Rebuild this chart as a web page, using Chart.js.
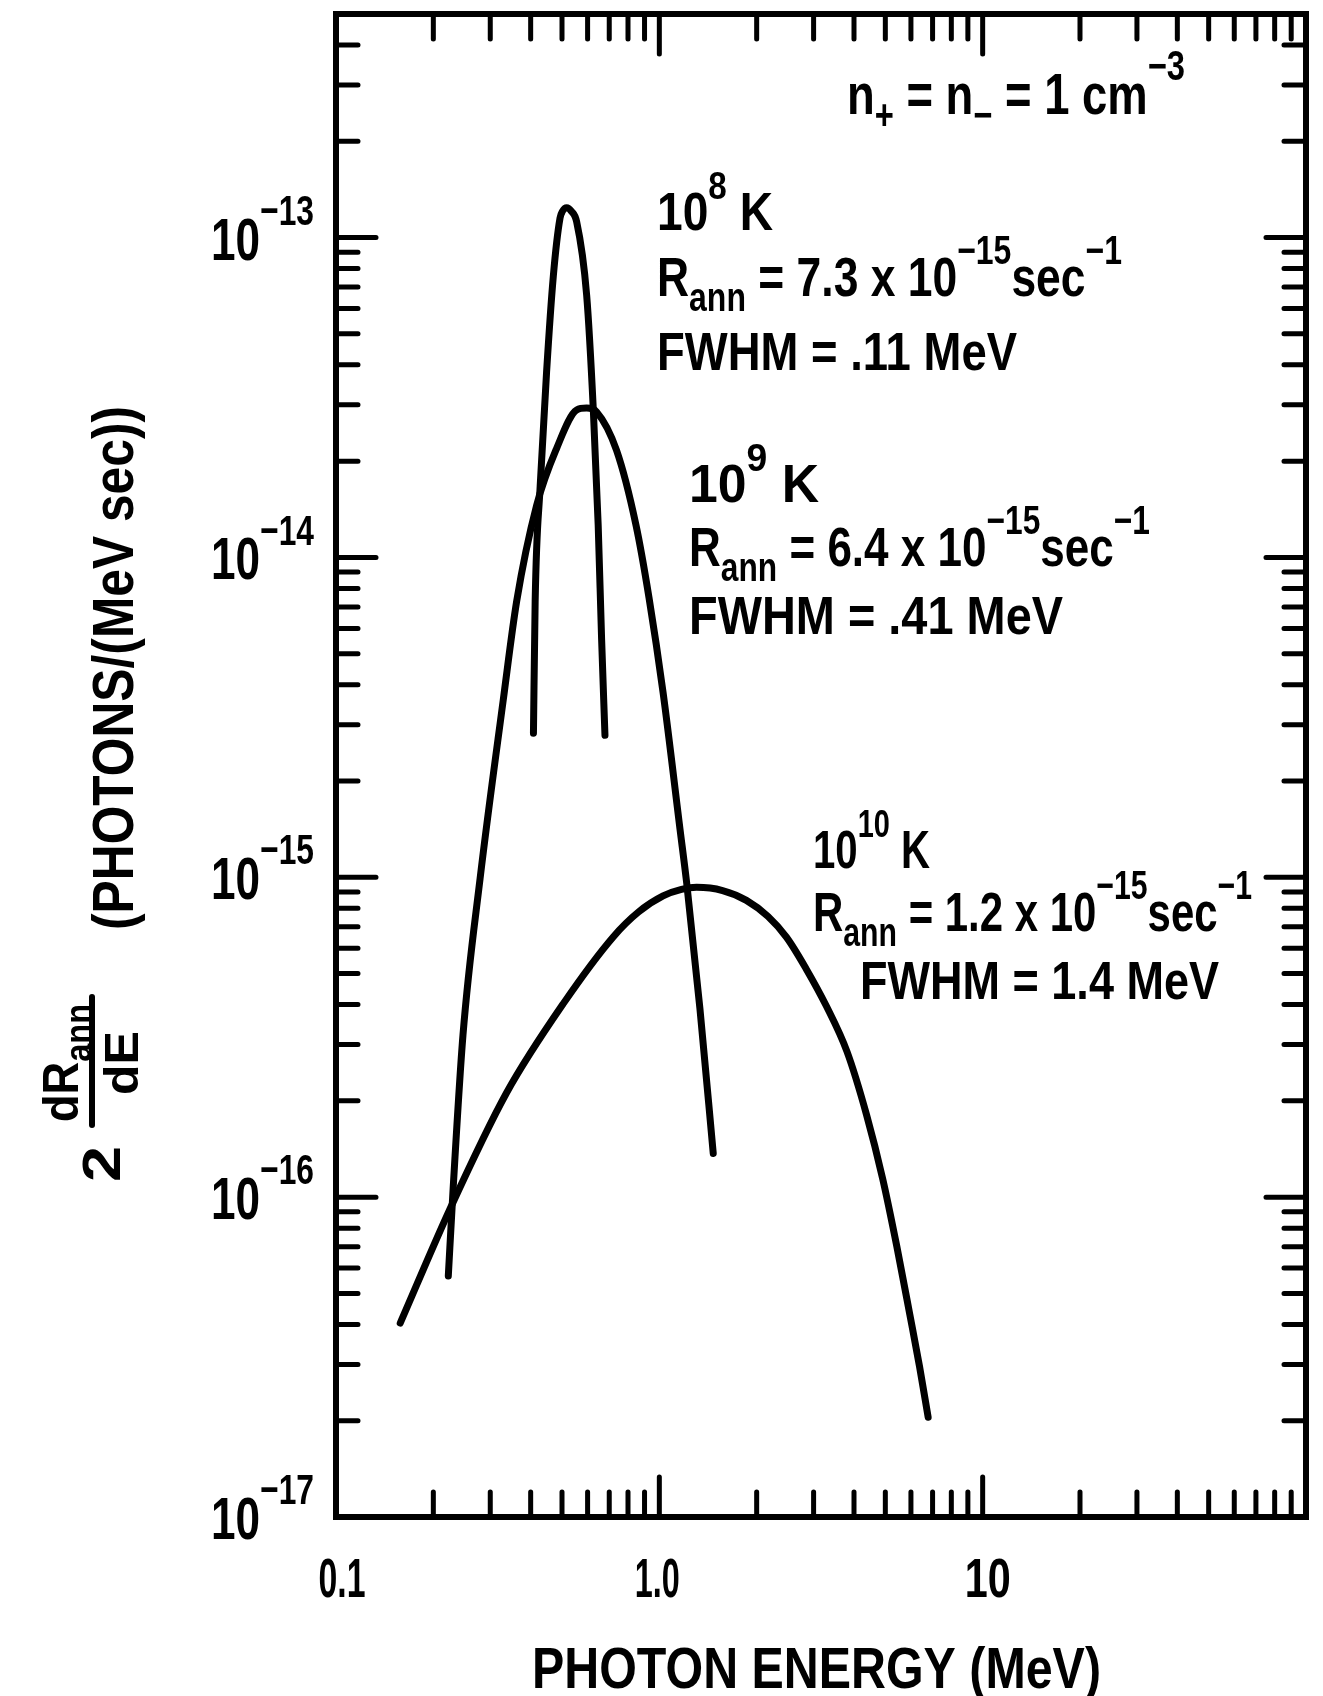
<!DOCTYPE html>
<html>
<head>
<meta charset="utf-8">
<script src="https://cdn.jsdelivr.net/npm/chart.js@4.4.1/dist/chart.umd.min.js"></script>
<style>
html, body { margin:0; padding:0; background:#fff; }
canvas { display:block; }
</style>
</head>
<body>
<canvas id="mycanvas" width="1323" height="1696"></canvas>
<script>
// photon energy (MeV) and 2 dR/dE, one pair per temperature
var e8  = [0.408, 0.413, 0.428, 0.448, 0.470, 0.493, 0.502, 0.517, 0.534, 0.555, 0.596, 0.625, 0.647, 0.663, 0.679];
var r8  = [2.82e-15, 7.29e-15, 1.67e-14, 3.80e-14, 7.57e-14, 1.15e-13, 1.21e-13, 1.24e-13, 1.21e-13, 1.12e-13, 6.60e-14, 2.89e-14, 1.26e-14, 5.53e-15, 2.78e-15];
var e9  = [0.2225, 0.230, 0.247, 0.279, 0.329, 0.362, 0.417, 0.481, 0.555, 0.596, 0.640, 0.7375, 0.847, 0.929, 1.027, 1.158, 1.215, 1.335, 1.468];
var r9  = [5.67e-17, 1.04e-16, 3.21e-16, 9.90e-16, 3.58e-15, 7.29e-15, 1.45e-14, 2.19e-14, 2.89e-14, 2.93e-14, 2.85e-14, 2.16e-14, 1.26e-14, 7.49e-15, 3.78e-15, 1.42e-15, 9.60e-16, 3.89e-16, 1.37e-16];
var e10 = [0.158, 0.225, 0.337, 0.504, 0.720, 0.861, 1.027, 1.171, 1.304, 1.569, 1.859, 2.169, 2.472, 2.840, 3.288, 3.806, 4.373, 4.908, 5.425, 5.951, 6.377, 6.783];
var r10 = [4.04e-17, 9.17e-17, 2.12e-16, 4.02e-16, 6.51e-16, 7.78e-16, 8.74e-16, 9.16e-16, 9.30e-16, 9.09e-16, 8.47e-16, 7.54e-16, 6.50e-16, 5.19e-16, 3.95e-16, 2.85e-16, 1.81e-16, 1.14e-16, 7.02e-17, 4.30e-17, 2.96e-17, 2.05e-17];

var xTickVals = [0.1, 1, 10];
var xTickText = ['0.1', '1.0', '10'];
var yExps = [-13, -14, -15, -16, -17];

var FONT = '"Liberation Sans", Arial, sans-serif';

function pts(xs, ys) {
	return xs.map(function(v, i){ return {x: v, y: ys[i]}; });
}

// draws pieces of text: kind 0 normal, 1 superscript, 2 subscript; squeezed to width w
function rich(ctx, segs, x, y, size, w) {
	var parts = segs.map(function(s){
		var fs = s[1] == 0 ? size : size * 0.72;
		ctx.font = 'bold ' + fs + 'px ' + FONT;
		return {t: s[0], k: s[1], fs: fs, w: ctx.measureText(s[0]).width};
	});
	var total = 0;
	parts.forEach(function(p){ total += p.w; });
	var sx = w ? w / total : 1;
	ctx.save();
	ctx.translate(x, y);
	ctx.scale(sx, 1);
	ctx.fillStyle = '#000';
	ctx.textBaseline = 'alphabetic';
	ctx.textAlign = 'left';
	var cx = 0;
	parts.forEach(function(p){
		ctx.font = 'bold ' + p.fs + 'px ' + FONT;
		var dy = p.k == 1 ? -size * 0.58 : (p.k == 2 ? size * 0.26 : 0);
		ctx.fillText(p.t, cx, dy);
		cx += p.w;
	});
	ctx.restore();
}

var framePlugin = {
	id: 'frame',
	afterDatasetsDraw: function(chart) {
		var ctx = chart.ctx;
		var xs = chart.scales.x, ys = chart.scales.y;
		var a = chart.chartArea;
		ctx.save();
		ctx.strokeStyle = '#000';
		ctx.lineCap = 'round';

		// inward ticks on all four sides
		ctx.lineWidth = 5;
		var d, k, p, len;
		for (d = 0.1; d < 100; d *= 10) {
			for (k = 1; k <= 9; k++) {
				var v = d * k;
				if (v <= 0.1 + 1e-9) continue;
				p = xs.getPixelForValue(v);
				len = k == 1 ? 40 : 25;
				ctx.beginPath();
				ctx.moveTo(p, a.bottom); ctx.lineTo(p, a.bottom - len);
				ctx.moveTo(p, a.top); ctx.lineTo(p, a.top + len);
				ctx.stroke();
			}
		}
		for (d = 1e-17; d < 1e-12; d *= 10) {
			for (k = 1; k <= 9; k++) {
				var w = d * k;
				if (w <= 1.0001e-17 || w > 5.0001e-13) continue;
				p = ys.getPixelForValue(w);
				len = k == 1 ? 40 : 22;
				ctx.beginPath();
				ctx.moveTo(a.left, p); ctx.lineTo(a.left + len, p);
				ctx.moveTo(a.right, p); ctx.lineTo(a.right - len, p);
				ctx.stroke();
			}
		}

		ctx.lineWidth = 6;
		ctx.lineCap = 'square';
		ctx.strokeRect(a.left, a.top, a.right - a.left, a.bottom - a.top);

		// tick labels
		var xOff = [6, -2, 5];
		var xW = [47, 45, 46];
		xTickVals.forEach(function(v, i){
			var px = xs.getPixelForValue(v);
			rich(ctx, [[xTickText[i], 0]], px + xOff[i] - xW[i] / 2, 1597, 56, xW[i]);
		});
		yExps.forEach(function(e){
			var py = ys.getPixelForValue(Math.pow(10, e));
			rich(ctx, [['10', 0], ['\u2212' + (-e), 1]], 211, py + 22, 60, 103);
		});

		// axis titles
		rich(ctx, [['PHOTON ENERGY (MeV)', 0]], 532, 1688, 58, 569);

		ctx.save();
		ctx.rotate(-Math.PI / 2);
		rich(ctx, [['2', 0]], -1182, 120, 54, 36);
		rich(ctx, [['dR', 0], ['ann', 2]], -1122, 78, 50, 118);
		ctx.lineWidth = 6;
		ctx.lineCap = 'round';
		ctx.beginPath();
		ctx.moveTo(-1125, 92); ctx.lineTo(-997, 92);
		ctx.stroke();
		rich(ctx, [['dE', 0]], -1095, 138, 48, 64);
		rich(ctx, [['(PHOTONS/(MeV sec))', 0]], -930, 133, 58, 524);
		ctx.restore();

		// annotations
		rich(ctx, [['n', 0], ['+', 2], [' = n', 0], ['\u2212', 2], [' = 1 cm', 0], ['\u22123', 1]], 847, 114, 58, 338);

		rich(ctx, [['10', 0], ['8', 1], [' K', 0]], 657, 230, 53, 116);
		rich(ctx, [['R', 0], ['ann', 2], [' = 7.3 x 10', 0], ['\u221215', 1], ['sec', 0], ['\u22121', 1]], 657, 296, 56, 465);
		rich(ctx, [['FWHM = .11 MeV', 0]], 657, 370, 53, 360);

		rich(ctx, [['10', 0], ['9', 1], [' K', 0]], 689, 502, 53, 130);
		rich(ctx, [['R', 0], ['ann', 2], [' = 6.4 x 10', 0], ['\u221215', 1], ['sec', 0], ['\u22121', 1]], 689, 566, 56, 461);
		rich(ctx, [['FWHM = .41 MeV', 0]], 689, 634, 53, 374);

		rich(ctx, [['10', 0], ['10', 1], [' K', 0]], 813, 868, 53, 117);
		rich(ctx, [['R', 0], ['ann', 2], [' = 1.2 x 10', 0], ['\u221215', 1], ['sec', 0], ['\u22121', 1]], 813, 931, 56, 439);
		rich(ctx, [['FWHM = 1.4 MeV', 0]], 860, 999, 53, 359);

		ctx.restore();
	}
};

var ctx = document.getElementById('mycanvas').getContext('2d');
var chart = new Chart(ctx, {
	type: 'line',
	data: {
		datasets: [
			{label: '10^8 K', data: pts(e8, r8), cubicInterpolationMode: 'monotone'},
			{label: '10^9 K', data: pts(e9, r9), cubicInterpolationMode: 'monotone'},
			{label: '10^10 K', data: pts(e10, r10), cubicInterpolationMode: 'monotone'}
		]
	},
	options: {
		responsive: false,
		animation: false,
		devicePixelRatio: 1,
		layout: {padding: {left: 336, right: 17, top: 14, bottom: 179}},
		plugins: {legend: {display: false}, tooltip: {enabled: false}},
		elements: {
			point: {radius: 0},
			line: {borderWidth: 7, borderColor: '#000', borderCapStyle: 'round', borderJoinStyle: 'round', fill: false}
		},
		scales: {
			x: {type: 'logarithmic', min: 0.1, max: 100, display: false},
			y: {type: 'logarithmic', min: 1e-17, max: 5e-13, display: false}
		}
	},
	plugins: [framePlugin]
});
</script>
</body>
</html>
